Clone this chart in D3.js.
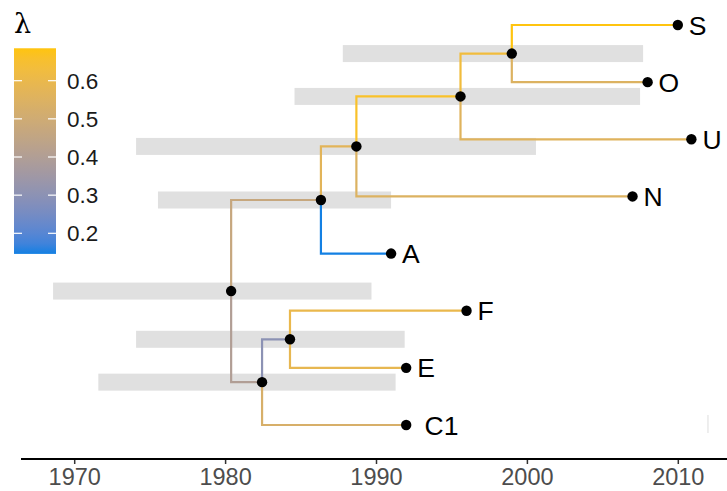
<!DOCTYPE html>
<html>
<head>
<meta charset="utf-8">
<script src="https://cdn.jsdelivr.net/npm/d3@7"></script>
<style>
  body { margin: 0; background: #fff; }
  svg text { font-family: "Liberation Sans", Arial, sans-serif; }
</style>
</head>
<body>
<div id="chart"></div>
<script>
// tree: node names, parent, date (year), branch lambda, HPD interval
var names   = ["root", "n1", "n2", "n3", "n4", "n5", "n6", "S", "O", "U", "N", "A", "F", "E", "C1"];
var parents = [null, "root", "n1", "root", "n3", "n4", "n5", "n6", "n6", "n5", "n4", "n3", "n2", "n2", "n1"];
var dates   = [1980.4, 1982.45, 1984.3, 1986.35, 1988.7, 1995.6, 1999.0,
               2010.0, 2008.0, 2010.9, 2007.0, 1991.0, 1996.0, 1992.0, 1992.0];
var lambdas = [null, 0.40, 0.30, 0.47, 0.57, 0.66, 0.63,
               0.685, 0.55, 0.56, 0.55, 0.146, 0.60, 0.59, 0.53];
var hpdLow  = [1968.6, 1971.6, 1974.1, 1975.55, 1974.1, 1984.6, 1987.8];
var hpdHigh = [1989.7, 1991.3, 1991.9, 1991.0, 2000.6, 2007.5, 2007.7];
// tip order top to bottom
var tipOrder  = ["S", "O", "U", "N", "A", "F", "E", "C1"];
var tipLabels = ["S", "O", "U", "N", "A", "F", "E", " C1"];
var xTicks = [1970, 1980, 1990, 2000, 2010];
var legendTicks = [0.2, 0.3, 0.4, 0.5, 0.6];
var lambdaRange = [0.146, 0.685];

var width = 727, height = 491;
var svg = d3.select("#chart").append("svg")
    .attr("width", width)
    .attr("height", height);

var x = d3.scaleLinear().domain([1970, 2010]).range([74.2, 677.8]);
var y = d3.scaleLinear().domain([1, tipOrder.length]).range([425, 25]);
var color = d3.scaleLinear().domain(lambdaRange)
    .range(["#1380E3", "#FFC40F"]).interpolate(d3.interpolateLab);

var table = names.map((n, i) => ({
    id: n, parent: parents[i], date: dates[i], lambda: lambdas[i],
    low: hpdLow[i], high: hpdHigh[i]
}));
var root = d3.stratify().id(d => d.id).parentId(d => d.parent)(table);

// ladder-style y: tips by order, internal nodes at mean of children
root.eachAfter(d => {
    if (!d.children) d.yv = tipOrder.length - tipOrder.indexOf(d.id);
    else d.yv = d3.mean(d.children, c => c.yv);
});

// HPD bars
svg.append("g").selectAll("rect")
    .data(root.descendants().filter(d => d.children))
    .enter().append("rect")
    .attr("x", d => x(d.data.low))
    .attr("width", d => x(d.data.high) - x(d.data.low))
    .attr("y", d => y(d.yv) - 8.5)
    .attr("height", 17)
    .attr("fill", "#e0e0e0");

// faint mark near lower right
svg.append("line")
    .attr("x1", x(2012)).attr("x2", x(2012))
    .attr("y1", 415).attr("y2", 433)
    .attr("stroke", "#e3e3e3").attr("stroke-width", 1.2);

// branches (elbow), coloured by child lambda
svg.append("g").selectAll("path")
    .data(root.links())
    .enter().append("path")
    .attr("d", l => "M" + x(l.source.data.date) + "," + y(l.source.yv) +
        "V" + y(l.target.yv) + "H" + x(l.target.data.date))
    .attr("fill", "none")
    .attr("stroke", l => color(l.target.data.lambda))
    .attr("stroke-width", 2.2);

// node points
svg.append("g").selectAll("circle")
    .data(root.descendants())
    .enter().append("circle")
    .attr("cx", d => x(d.data.date))
    .attr("cy", d => y(d.yv))
    .attr("r", 5.2)
    .attr("fill", "#000");

// tip labels
svg.append("g").selectAll("text")
    .data(root.leaves())
    .enter().append("text")
    .attr("x", d => x(d.data.date) + 11)
    .attr("y", d => y(d.yv) + 9.5)
    .style("white-space", "pre")
    .attr("font-size", 26.5)
    .attr("fill", "#000")
    .text(d => tipLabels[tipOrder.indexOf(d.id)]);

// x axis
var axis = svg.append("g")
    .attr("transform", "translate(0,459)")
    .call(d3.axisBottom(x).tickValues(xTicks).tickFormat(d3.format("d")).tickSize(5).tickPadding(4));
axis.select(".domain").remove();
axis.append("line")
    .attr("x1", 21).attr("x2", width)
    .attr("stroke", "#000").attr("stroke-width", 2);
axis.selectAll(".tick line").attr("stroke", "#333").attr("stroke-width", 1.5);
axis.selectAll(".tick text")
    .attr("fill", "#4d4d4d")
    .attr("font-size", 23.5)
    .attr("font-family", "Liberation Sans, Arial, sans-serif");

// legend
var ly = d3.scaleLinear().domain([0.6, 0.2]).range([80.7, 233.3]);
var defs = svg.append("defs");
var grad = defs.append("linearGradient")
    .attr("id", "lgrad").attr("x1", 0).attr("x2", 0).attr("y1", 1).attr("y2", 0);
d3.range(0, 1.0001, 0.05).forEach(t => {
    var v = lambdaRange[0] + t * (lambdaRange[1] - lambdaRange[0]);
    grad.append("stop").attr("offset", t).attr("stop-color", color(v));
});
svg.append("rect")
    .attr("x", 14).attr("width", 42)
    .attr("y", ly(lambdaRange[1]))
    .attr("height", ly(lambdaRange[0]) - ly(lambdaRange[1]))
    .attr("fill", "url(#lgrad)");
var lt = svg.append("g").selectAll("g")
    .data(legendTicks).enter().append("g");
lt.append("line").attr("x1", 14).attr("x2", 22)
    .attr("y1", d => ly(d)).attr("y2", d => ly(d))
    .attr("stroke", "#fff").attr("stroke-width", 1.2);
lt.append("line").attr("x1", 48).attr("x2", 56)
    .attr("y1", d => ly(d)).attr("y2", d => ly(d))
    .attr("stroke", "#fff").attr("stroke-width", 1.2);
lt.append("text")
    .attr("x", 67).attr("y", d => ly(d) + 8)
    .attr("font-size", 22.5)
    .attr("fill", "#1a1a1a")
    .text(d => d3.format(".1f")(d));
svg.append("text")
    .attr("x", 14).attr("y", 33)
    .attr("font-size", 27)
    .style("font-family", "DejaVu Serif, serif")
    .attr("fill", "#000")
    .text("λ");
</script>
</body>
</html>
